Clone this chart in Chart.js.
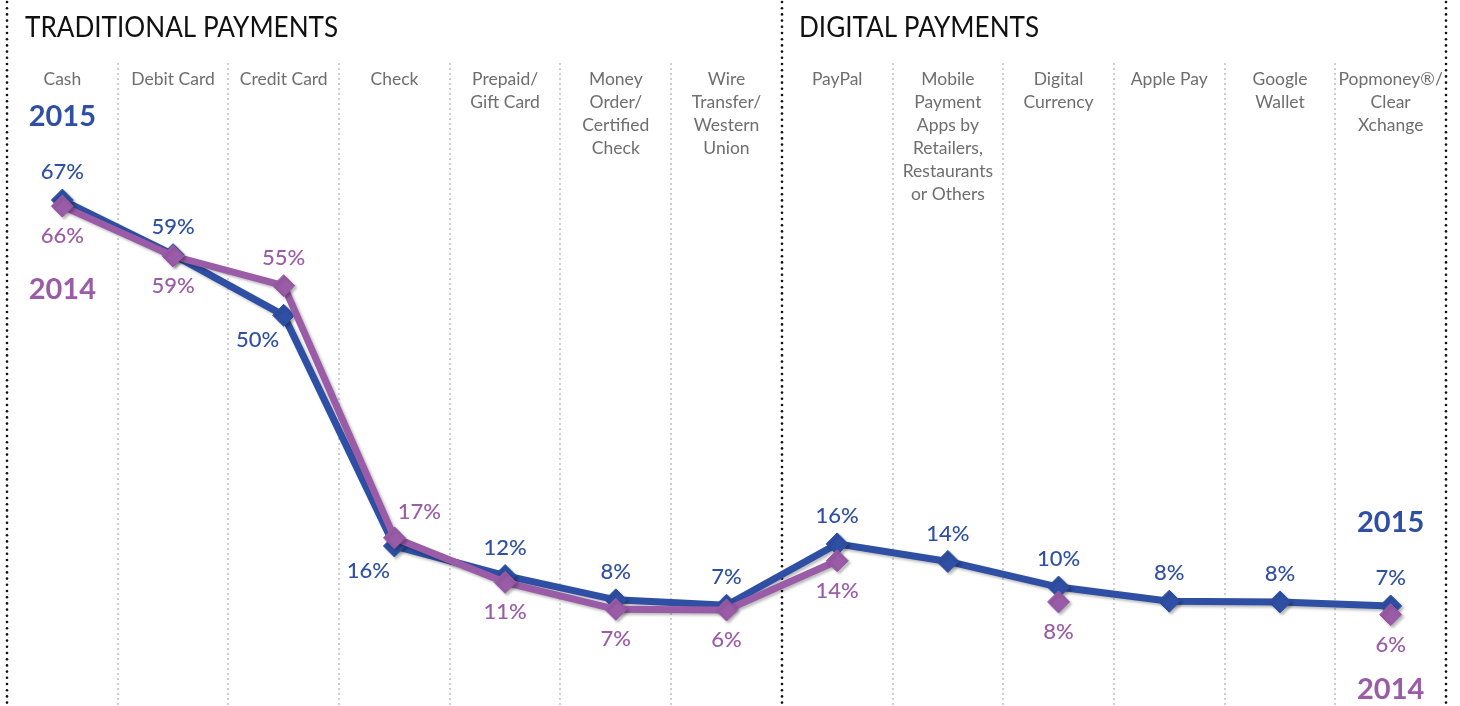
<!DOCTYPE html>
<html>
<head>
<meta charset="utf-8">
<script src="https://cdn.jsdelivr.net/npm/chart.js@4/dist/chart.umd.min.js"></script>
<style>
  html, body { margin: 0; padding: 0; background: #fff; }
  #wrap { width: 1460px; height: 706px; position: relative; }
</style>
</head>
<body>
<div id="wrap"><canvas id="payChart"></canvas></div>
<script>
// Categorias (lineas del encabezado)
const categorias = [
  ['Cash'], ['Debit Card'], ['Credit Card'], ['Check'], ['Prepaid/', 'Gift Card'],
  ['Money', 'Order/', 'Certified', 'Check'], ['Wire', 'Transfer/', 'Western', 'Union'],
  ['PayPal'], ['Mobile', 'Payment', 'Apps by', 'Retailers,', 'Restaurants', 'or Others'],
  ['Digital', 'Currency'], ['Apple Pay'], ['Google', 'Wallet'], ['Popmoney®/', 'Clear', 'Xchange']
];

// Valores (%)
const valores2015 = [67.3, 59.2, 50.2, 16.0, 11.6, 8.0, 7.2, 16.3, 13.7, 9.9, 7.8, 7.7, 7.1];
const valores2014 = [66.4, 59.0, 54.6, 17.2, 10.6, 6.6, 6.5, 13.8, null, 7.7, null, null, 5.8];

// Etiquetas impresas
const etiquetas2015 = ['67%', '59%', '50%', '16%', '12%', '8%', '7%', '16%', '14%', '10%', '8%', '8%', '7%'];
const etiquetas2014 = ['66%', '59%', '55%', '17%', '11%', '7%', '6%', '14%', null, '8%', null, null, '6%'];

// Donde va cada etiqueta respecto del punto
const lugar2015 = ['up', 'up', 'downLeft', 'downLeft', 'up', 'up', 'up', 'up', 'up', 'up', 'up', 'up', 'up'];
const lugar2014 = ['down', 'down', 'up', 'upRight', 'down', 'down', 'down', 'down', null, 'down', null, null, 'down'];

const azul = '#2E4FA3';
const violeta = '#9A5BA7';
const fuente = 'Lato, "Open Sans", sans-serif';

const offsets = {
  up: [0, -28], down: [0, 30], downLeft: [-26, 25], upRight: [25, -26]
};

// Separadores punteados y textos
const decoPlugin = {
  id: 'deco',
  beforeDatasetsDraw(chart) {
    const ctx = chart.ctx;
    const x = chart.scales.x;
    const step = x.getPixelForValue(1) - x.getPixelForValue(0);
    ctx.save();
    for (let i = 0; i <= categorias.length; i++) {
      const px = Math.round(x.getPixelForValue(i) - step / 2);
      const negro = (i === 0 || i === 7 || i === categorias.length);
      ctx.fillStyle = negro ? '#111' : '#c4c4c4';
      const y0 = negro ? 2 : 64;
      const gap = negro ? 6.2 : 5;
      const r = negro ? 1.3 : 1.1;
      for (let y = y0; y < 706; y += gap) {
        ctx.beginPath();
        ctx.arc(px, y, r, 0, Math.PI * 2);
        ctx.fill();
      }
    }
    // Encabezados (algo angostos, como en el original)
    ctx.fillStyle = '#111';
    ctx.font = '29px ' + fuente;
    ctx.textAlign = 'left';
    ctx.textBaseline = 'middle';
    ctx.save();
    ctx.scale(0.9, 1);
    ctx.fillText('TRADITIONAL PAYMENTS', 25 / 0.9, 28);
    ctx.fillText('DIGITAL PAYMENTS', 799 / 0.9, 28);
    ctx.restore();
    // Categorias
    ctx.fillStyle = '#6e6e6e';
    ctx.font = '17.5px ' + fuente;
    ctx.textAlign = 'center';
    categorias.forEach((lineas, i) => {
      const cx = x.getPixelForValue(i);
      lineas.forEach((t, j) => ctx.fillText(t, cx, 79 + j * 23));
    });
    // Anios
    ctx.font = 'bold 29px ' + fuente;
    const c0 = x.getPixelForValue(0);
    const cN = x.getPixelForValue(categorias.length - 1);
    ctx.fillStyle = azul;
    ctx.fillText('2015', c0, 117);
    ctx.fillText('2015', cN, 523);
    ctx.fillStyle = violeta;
    ctx.fillText('2014', c0, 290);
    ctx.fillText('2014', cN, 690);
    ctx.restore();
  },
  beforeDatasetDraw(chart) {
    const ctx = chart.ctx;
    ctx.save();
    ctx.shadowColor = 'rgba(0,0,0,0.28)';
    ctx.shadowBlur = 3;
    ctx.shadowOffsetX = 2;
    ctx.shadowOffsetY = 2;
  },
  afterDatasetDraw(chart) {
    chart.ctx.restore();
  },
  afterDatasetsDraw(chart) {
    const ctx = chart.ctx;
    ctx.save();
    ctx.font = '500 22px ' + fuente;
    ctx.textAlign = 'center';
    ctx.textBaseline = 'middle';
    const series = [
      { meta: chart.getDatasetMeta(1), textos: etiquetas2015, lugar: lugar2015, color: azul },
      { meta: chart.getDatasetMeta(0), textos: etiquetas2014, lugar: lugar2014, color: violeta }
    ];
    series.forEach(s => {
      ctx.fillStyle = s.color;
      s.meta.data.forEach((pt, i) => {
        if (!s.textos[i] || !s.lugar[i]) return;
        const o = offsets[s.lugar[i]];
        ctx.fillText(s.textos[i], pt.x + o[0], pt.y + o[1]);
      });
    });
    ctx.restore();
  }
};

new Chart(document.getElementById('payChart'), {
  type: 'line',
  data: {
    labels: categorias.map(c => c.join(' ')),
    datasets: [
      {
        label: '2014',
        data: valores2014,
        borderColor: violeta,
        backgroundColor: violeta,
        borderWidth: 7,
        pointStyle: 'rectRot',
        pointRadius: 11,
        pointBorderWidth: 1,
        pointBackgroundColor: violeta,
        pointBorderColor: violeta,
        spanGaps: false,
        tension: 0
      },
      {
        label: '2015',
        data: valores2015,
        borderColor: azul,
        backgroundColor: azul,
        borderWidth: 7,
        pointStyle: 'rectRot',
        pointRadius: 11,
        pointBorderWidth: 1,
        pointBackgroundColor: azul,
        pointBorderColor: azul,
        tension: 0
      }
    ]
  },
  options: {
    responsive: true,
    maintainAspectRatio: false,
    animation: false,
    layout: { autoPadding: false, padding: { top: 47, bottom: 5, left: 7, right: 14 } },
    scales: {
      x: { display: false, offset: true },
      y: { display: false, min: -7, max: 90 }
    },
    plugins: {
      legend: { display: false },
      tooltip: { enabled: false }
    }
  },
  plugins: [decoPlugin]
});
</script>
</body>
</html>
